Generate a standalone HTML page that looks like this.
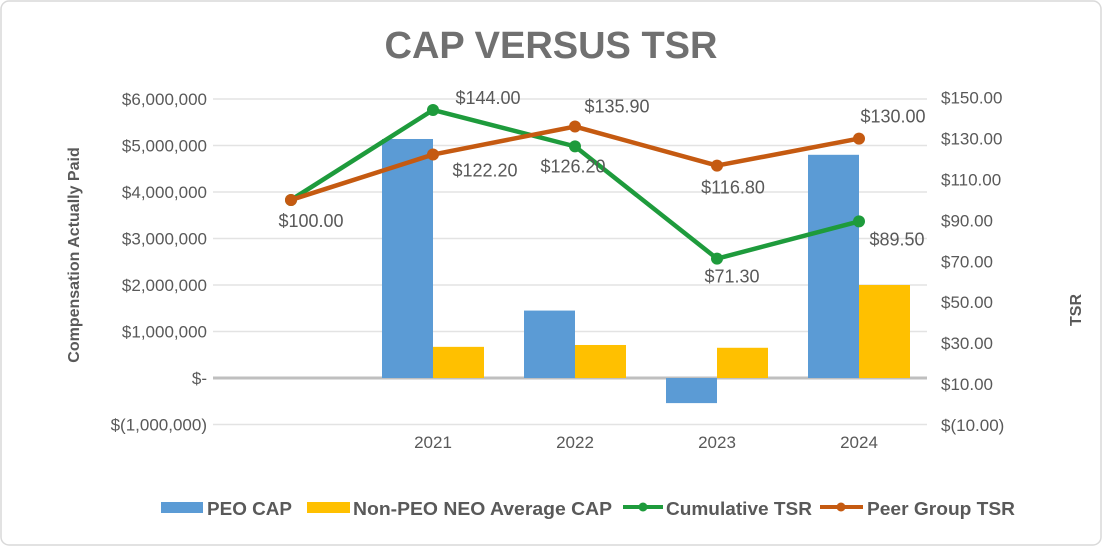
<!DOCTYPE html>
<html><head><meta charset="utf-8"><style>
body{margin:0;background:#fff;}
svg{display:block;font-family:"Liberation Sans",Arial,sans-serif;}
</style></head><body>
<svg id="chart" width="1102" height="546" viewBox="0 0 1102 546">
<rect x="1" y="1" width="1100" height="544" rx="8" fill="#fff" stroke="#d9d9d9" stroke-width="1.5"/>
<text x="551" y="58" text-anchor="middle" font-size="38" font-weight="bold" fill="#707070">CAP VERSUS TSR</text>
<g id="grid"></g><g id="bars"></g><g id="lines"></g><g id="axes"></g>
<text transform="translate(79,255) rotate(-90)" text-anchor="middle" font-size="16" font-weight="bold" fill="#595959">Compensation Actually Paid</text>
<text transform="translate(1081,310) rotate(-90)" text-anchor="middle" font-size="16" font-weight="bold" fill="#595959">TSR</text>
<g font-size="18" font-weight="bold" fill="#595959">
<g><rect x="161" y="502" width="42" height="11" fill="#5b9bd5"/><text x="207" y="515" textLength="85" lengthAdjust="spacingAndGlyphs">PEO CAP</text></g>
<g><rect x="307" y="502" width="43" height="11" fill="#ffc000"/><text x="353" y="515" textLength="259" lengthAdjust="spacingAndGlyphs">Non-PEO NEO Average CAP</text></g>
<g><line x1="623" y1="507" x2="663" y2="507" stroke="#1e9b3c" stroke-width="4"/><circle cx="643" cy="507" r="4.5" fill="#1e9b3c"/><text x="666" y="515" textLength="146" lengthAdjust="spacingAndGlyphs">Cumulative TSR</text></g>
<g><line x1="820" y1="507" x2="863" y2="507" stroke="#c55a11" stroke-width="4"/><circle cx="841" cy="507" r="4.5" fill="#c55a11"/><text x="867" y="515" textLength="148" lengthAdjust="spacingAndGlyphs">Peer Group TSR</text></g>
</g>
</svg>
<script>
const categories = ["", "2021", "2022", "2023", "2024"];
const peoCap = [0, 5140000, 1450000, -540000, 4800000];
const neoCap = [0, 670000, 710000, 650000, 2000000];
const cumulativeTsr = [100, 144, 126.2, 71.3, 89.5];
const peerTsr = [100, 122.2, 135.9, 116.8, 130];
const cumLabels = ["", "$144.00", "$126.20", "$71.30", "$89.50"];
const peerLabels = ["$100.00", "$122.20", "$135.90", "$116.80", "$130.00"];
const leftTicks = [6000000,5000000,4000000,3000000,2000000,1000000,0,-1000000];
const leftTickLabels = ["$6,000,000","$5,000,000","$4,000,000","$3,000,000","$2,000,000","$1,000,000","$-","$(1,000,000)"];
const rightTicks = [150,130,110,90,70,50,30,10,-10];
const rightTickLabels = ["$150.00","$130.00","$110.00","$90.00","$70.00","$50.00","$30.00","$10.00","$(10.00)"];

const NS="http://www.w3.org/2000/svg";
const plotL=220, band=142;
const xC=i=>plotL+band*(i+0.5);
const yL=v=>378-v*(46.5/1e6);
const yR=v=>384-(v-10)*(40.9/20);
function mk(tag,attrs,parent,txt){const e=document.createElementNS(NS,tag);for(const k in attrs)e.setAttribute(k,attrs[k]);if(txt!==undefined)e.textContent=txt;document.getElementById(parent).appendChild(e);return e;}

leftTicks.forEach((t,i)=>{
  const y=yL(t);
  const g=mk('line',{x1:213,x2:927,y1:y,y2:y,stroke:t===0?'#bfbfbf':'#e3e3e3','stroke-width':t===0?3:1.5},'grid');
  
  
  const l=mk('text',{x:207,y:y+6,'text-anchor':'end','font-size':17,fill:'#595959'},'axes',leftTickLabels[i]);
  
  
});
rightTicks.forEach((t,i)=>{
  const l=mk('text',{x:941,y:yR(t)+6,'font-size':17,fill:'#595959'},'axes',rightTickLabels[i]);
  
  
});
categories.forEach((c,i)=>{
  if(!c)return;
  const l=mk('text',{x:xC(i),y:448,'text-anchor':'middle','font-size':17,fill:'#595959'},'axes',c);
  
  
});
const bw=51;
categories.forEach((c,i)=>{
  if(peoCap[i]!==0){
    const y0=yL(0),y1=yL(peoCap[i]);
    const b=mk('rect',{x:xC(i)-bw,y:Math.min(y0,y1),width:bw,height:Math.abs(y1-y0),fill:'#5b9bd5'},'bars');
    
    
  }
  if(neoCap[i]!==0){
    const y0=yL(0),y1=yL(neoCap[i]);
    const b=mk('rect',{x:xC(i),y:Math.min(y0,y1),width:bw,height:Math.abs(y1-y0),fill:'#ffc000'},'bars');
    
    
  }
});
function series(vals,color,name){
  const p=mk('polyline',{points:vals.map((v,i)=>xC(i)+','+yR(v)).join(' '),fill:'none',stroke:color,'stroke-width':4.5,'stroke-linejoin':'round'},'lines');
  
  
  vals.forEach((v,i)=>{
    const c=mk('circle',{cx:xC(i),cy:yR(v),r:6,fill:color},'lines');
    
    
  });
}
series(cumulativeTsr,'#1e9b3c','cumulative-tsr');
series(peerTsr,'#c55a11','peer-group-tsr');
const peerOff=[[20,27],[52,22],[42,-14],[16,28],[34,-16]];
const cumOff=[[0,0],[55,-6],[-2,26],[15,24],[38,24]];
peerLabels.forEach((t,i)=>{
  const l=mk('text',{x:xC(i)+peerOff[i][0],y:yR(peerTsr[i])+peerOff[i][1],'text-anchor':'middle','font-size':18,fill:'#595959'},'lines',t);
  
  
});
cumLabels.forEach((t,i)=>{
  if(!t)return;
  const l=mk('text',{x:xC(i)+cumOff[i][0],y:yR(cumulativeTsr[i])+cumOff[i][1],'text-anchor':'middle','font-size':18,fill:'#595959'},'lines',t);
  
  
});
</script>
</body></html>
